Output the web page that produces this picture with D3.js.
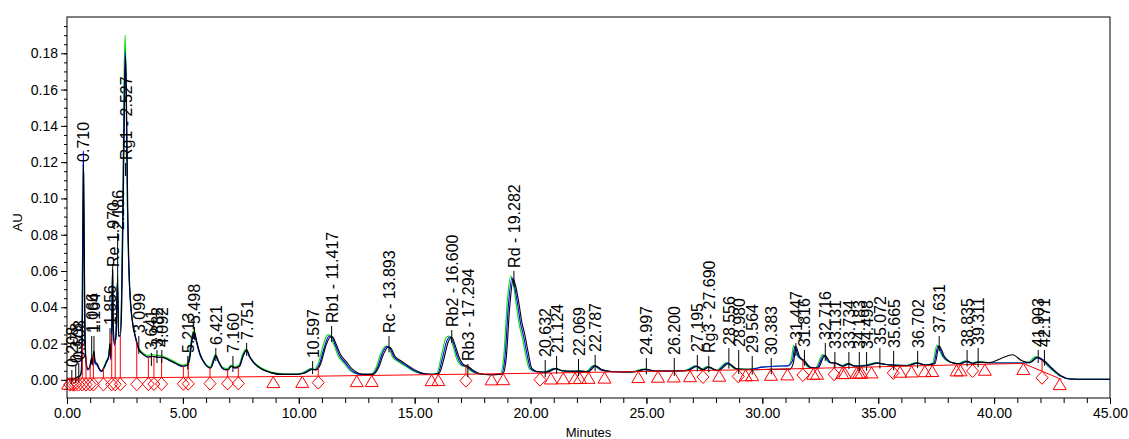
<!DOCTYPE html>
<html>
<head>
<meta charset="utf-8">
<script src="https://d3js.org/d3.v7.min.js"></script>
<style>
body, html {
    margin: 0;
    padding: 0;
    background: #fff;
    font-family: "Liberation Sans", Arial, sans-serif;
}
.axis text {
    font-size: 14px;
    font-family: "Liberation Sans", Arial, sans-serif;
    fill: #000;
}
.axis path { display: none; }
.axis line { stroke: #000; }
.trace {
    fill: none;
    stroke-width: 1.1;
}
.peak-label {
    font-size: 16px;
    fill: #000;
}
.marker {
    fill: none;
    stroke: #ff0000;
    stroke-width: 1;
}
</style>
</head>
<body>
<div id="chart"></div>
<script>

// traces: [minutes, AU]
var traceGreen = [[0,0.0003],[0.2,0.0004],[0.35,0.0009],[0.45,0.0016],[0.55,0.0022],[0.61,0.004],[0.65,0.03],[0.68,0.085],[0.705,0.119],[0.73,0.075],[0.77,0.025],[0.82,0.0095],[0.9,0.006],[0.98,0.007],[1.05,0.0115],[1.09,0.0085],[1.15,0.0155],[1.21,0.0095],[1.3,0.0085],[1.4,0.006],[1.5,0.005],[1.6,0.0075],[1.7,0.0105],[1.8,0.0135],[1.85,0.02],[1.89,0.012],[1.93,0.029],[1.96,0.061],[1.99,0.029],[2.05,0.02],[2.11,0.025],[2.175,0.055],[2.22,0.026],[2.29,0.026],[2.35,0.046],[2.41,0.1],[2.465,0.168],[2.51,0.19],[2.555,0.158],[2.6,0.1],[2.66,0.063],[2.73,0.044],[2.83,0.032],[2.93,0.025],[3.07,0.018],[3.27,0.015],[3.47,0.0135],[3.67,0.014],[3.87,0.0135],[4.07,0.0133],[4.37,0.0118],[4.67,0.0098],[4.97,0.0082],[5.17,0.0088],[5.27,0.0128],[5.37,0.023],[5.47,0.027],[5.57,0.022],[5.72,0.0148],[5.92,0.0098],[6.17,0.0072],[6.32,0.0118],[6.39,0.014],[6.52,0.0108],[6.72,0.0068],[6.92,0.0062],[7.07,0.0082],[7.22,0.0072],[7.42,0.0082],[7.57,0.0138],[7.72,0.017],[7.87,0.0132],[8.07,0.0097],[8.37,0.0067],[8.77,0.0045],[9.3,0.0034],[9.8,0.0032],[10.1,0.0036],[10.35,0.0052],[10.5,0.0062],[10.65,0.0057],[10.85,0.0095],[11.05,0.019],[11.25,0.0248],[11.35,0.0246],[11.5,0.0198],[11.7,0.0132],[11.95,0.0092],[12.2,0.0052],[12.5,0.0033],[12.85,0.003],[13.1,0.003],[13.35,0.0072],[13.55,0.015],[13.75,0.0187],[13.85,0.0183],[14.05,0.0125],[14.3,0.01],[14.6,0.0076],[14.9,0.0052],[15.2,0.0036],[15.65,0.003],[15.95,0.0035],[16.15,0.013],[16.35,0.0232],[16.48,0.0242],[16.65,0.0188],[16.8,0.012],[17.0,0.008],[17.2,0.0072],[17.4,0.0052],[17.7,0.0034],[18.25,0.0028],[18.7,0.0034],[18.85,0.014],[19.0,0.044],[19.15,0.0572],[19.25,0.053],[19.4,0.04],[19.52,0.03],[19.65,0.023],[19.8,0.013],[19.95,0.006],[20.25,0.0046],[20.6,0.0044],[21.0,0.0064],[21.3,0.0051],[21.7,0.0048],[22.0,0.0049],[22.4,0.0046],[22.7,0.0079],[23.0,0.0056],[23.5,0.0046],[24.3,0.0044],[24.9,0.0059],[25.3,0.0049],[26.1,0.005],[26.7,0.0053],[27.1,0.0078],[27.35,0.0057],[27.6,0.0073],[28.0,0.0052],[28.45,0.0094],[28.8,0.0062],[29.4,0.006],[30.0,0.007],[30.5,0.0075],[31.1,0.0078],[31.25,0.011],[31.35,0.019],[31.5,0.0135],[31.72,0.0108],[32.0,0.007],[32.3,0.0067],[32.6,0.014],[32.85,0.0098],[33.1,0.0094],[33.4,0.0078],[33.65,0.009],[33.9,0.0078],[34.4,0.008],[34.9,0.0094],[35.2,0.0087],[35.6,0.0082],[36.2,0.008],[36.6,0.0094],[37.0,0.0082],[37.35,0.0092],[37.53,0.0192],[37.75,0.0133],[38.1,0.0097],[38.45,0.009],[38.75,0.0104],[39.0,0.0092],[39.25,0.01],[39.7,0.0096],[40.3,0.0094],[41.0,0.0094],[41.45,0.0095],[41.8,0.0128],[42.07,0.0107],[42.4,0.0066],[42.8,0.0024],[43.2,0.0006],[44,0.0003],[45,0.0003]];

var traceBlue = [[0,0.0002],[0.2,0.0003],[0.35,0.0008],[0.45,0.0015],[0.55,0.002],[0.61,0.004],[0.65,0.03],[0.68,0.09],[0.705,0.126],[0.73,0.08],[0.77,0.025],[0.82,0.009],[0.9,0.0055],[0.98,0.0065],[1.05,0.011],[1.09,0.008],[1.15,0.015],[1.21,0.009],[1.3,0.008],[1.4,0.0055],[1.5,0.0045],[1.6,0.0065],[1.7,0.0095],[1.8,0.0125],[1.85,0.019],[1.89,0.011],[1.93,0.028],[1.96,0.06],[1.99,0.028],[2.05,0.019],[2.11,0.024],[2.175,0.054],[2.22,0.024],[2.29,0.024],[2.35,0.042],[2.41,0.095],[2.47,0.158],[2.515,0.181],[2.56,0.15],[2.61,0.095],[2.67,0.06],[2.74,0.042],[2.84,0.03],[2.94,0.024],[3.08,0.017],[3.28,0.014],[3.48,0.0125],[3.68,0.013],[3.88,0.0125],[4.08,0.0125],[4.38,0.011],[4.68,0.009],[4.98,0.0075],[5.18,0.008],[5.28,0.012],[5.38,0.022],[5.48,0.0262],[5.58,0.021],[5.73,0.014],[5.93,0.009],[6.18,0.0065],[6.33,0.011],[6.4,0.0132],[6.53,0.01],[6.73,0.006],[6.93,0.0055],[7.08,0.0075],[7.23,0.0065],[7.43,0.0075],[7.58,0.013],[7.73,0.0162],[7.88,0.0125],[8.08,0.009],[8.38,0.006],[8.78,0.004],[9.3,0.003],[9.8,0.003],[10.15,0.0035],[10.4,0.005],[10.54,0.006],[10.7,0.0055],[10.9,0.009],[11.1,0.018],[11.3,0.024],[11.4,0.0242],[11.55,0.02],[11.75,0.0135],[12.0,0.0095],[12.25,0.0055],[12.55,0.0033],[12.9,0.003],[13.15,0.003],[13.4,0.007],[13.6,0.0145],[13.8,0.0183],[13.9,0.018],[14.1,0.0128],[14.35,0.0102],[14.65,0.0078],[14.95,0.0053],[15.25,0.0037],[15.7,0.003],[16.0,0.0035],[16.2,0.012],[16.4,0.022],[16.54,0.0238],[16.7,0.019],[16.85,0.0125],[17.05,0.0082],[17.25,0.0073],[17.45,0.0053],[17.75,0.0034],[18.3,0.0028],[18.75,0.0033],[18.9,0.013],[19.05,0.042],[19.2,0.0562],[19.3,0.052],[19.45,0.041],[19.57,0.031],[19.7,0.024],[19.85,0.014],[20.0,0.0062],[20.25,0.0045],[20.65,0.0043],[21.05,0.0063],[21.35,0.005],[21.75,0.0047],[22.05,0.0048],[22.45,0.0045],[22.75,0.0078],[23.05,0.0055],[23.55,0.0045],[24.35,0.0043],[24.95,0.0058],[25.35,0.0048],[26.15,0.0049],[26.75,0.0052],[27.15,0.0076],[27.4,0.0056],[27.65,0.0071],[28.05,0.0051],[28.5,0.0092],[28.85,0.0061],[29.45,0.0058],[30.0,0.007],[30.5,0.0075],[31.1,0.0077],[31.3,0.0105],[31.4,0.0183],[31.55,0.013],[31.77,0.0106],[32.05,0.0069],[32.35,0.0066],[32.65,0.0136],[32.9,0.0096],[33.15,0.0093],[33.45,0.0076],[33.7,0.0089],[33.95,0.0076],[34.45,0.0079],[34.95,0.0093],[35.25,0.0086],[35.65,0.0081],[36.25,0.0079],[36.65,0.0093],[37.05,0.0081],[37.4,0.0091],[37.58,0.0186],[37.8,0.013],[38.15,0.0096],[38.5,0.0089],[38.8,0.0102],[39.05,0.0091],[39.3,0.0098],[39.75,0.0094],[40.3,0.0093],[41.0,0.0093],[41.5,0.0094],[41.85,0.0124],[42.12,0.0105],[42.45,0.0065],[42.85,0.0023],[43.25,0.0005],[44,0.0003],[45,0.0003]];

var traceBlack = [[0,0.0002],[0.2,0.0003],[0.35,0.0008],[0.45,0.0015],[0.55,0.002],[0.62,0.004],[0.66,0.02],[0.69,0.07],[0.72,0.114],[0.75,0.07],[0.78,0.025],[0.83,0.01],[0.9,0.006],[0.98,0.007],[1.06,0.012],[1.1,0.009],[1.16,0.016],[1.22,0.01],[1.3,0.009],[1.4,0.006],[1.5,0.005],[1.6,0.007],[1.7,0.01],[1.8,0.013],[1.86,0.02],[1.9,0.012],[1.94,0.03],[1.97,0.064],[2.0,0.03],[2.06,0.02],[2.12,0.025],[2.186,0.057],[2.23,0.025],[2.3,0.024],[2.36,0.04],[2.42,0.09],[2.48,0.15],[2.53,0.178],[2.57,0.15],[2.62,0.095],[2.68,0.06],[2.75,0.042],[2.85,0.03],[2.95,0.024],[3.1,0.017],[3.3,0.014],[3.5,0.0125],[3.7,0.013],[3.9,0.0125],[4.1,0.0125],[4.4,0.011],[4.7,0.009],[5.0,0.0075],[5.2,0.008],[5.3,0.012],[5.4,0.022],[5.5,0.0265],[5.6,0.021],[5.75,0.014],[5.95,0.009],[6.2,0.0065],[6.35,0.011],[6.42,0.0135],[6.55,0.01],[6.75,0.006],[6.95,0.0055],[7.1,0.0075],[7.25,0.0065],[7.45,0.0075],[7.6,0.013],[7.75,0.0165],[7.9,0.0125],[8.1,0.009],[8.4,0.006],[8.8,0.004],[9.3,0.003],[9.8,0.003],[10.2,0.0035],[10.45,0.005],[10.6,0.006],[10.75,0.0055],[10.95,0.009],[11.15,0.018],[11.35,0.0235],[11.45,0.0237],[11.6,0.02],[11.8,0.014],[12.05,0.01],[12.3,0.006],[12.6,0.0035],[12.9,0.003],[13.2,0.003],[13.45,0.007],[13.65,0.014],[13.85,0.018],[13.95,0.0178],[14.15,0.013],[14.4,0.0105],[14.7,0.008],[15.0,0.0055],[15.3,0.0038],[15.7,0.003],[16.05,0.0035],[16.25,0.011],[16.45,0.021],[16.6,0.0235],[16.75,0.019],[16.9,0.013],[17.1,0.0085],[17.3,0.0075],[17.5,0.0055],[17.8,0.0035],[18.3,0.0028],[18.8,0.0032],[18.95,0.012],[19.1,0.04],[19.25,0.0555],[19.35,0.052],[19.5,0.042],[19.62,0.032],[19.75,0.025],[19.9,0.015],[20.05,0.0065],[20.3,0.0045],[20.7,0.0042],[21.1,0.0062],[21.4,0.005],[21.8,0.0047],[22.1,0.0048],[22.5,0.0045],[22.8,0.0077],[23.1,0.0055],[23.6,0.0045],[24.4,0.0043],[25.0,0.0058],[25.4,0.0048],[26.2,0.0049],[26.8,0.0052],[27.2,0.0075],[27.45,0.0056],[27.7,0.007],[28.1,0.0051],[28.55,0.009],[28.9,0.006],[29.5,0.0056],[30.4,0.0058],[31.2,0.0059],[31.35,0.01],[31.45,0.0184],[31.6,0.013],[31.82,0.0105],[32.1,0.0068],[32.4,0.0065],[32.7,0.0135],[32.95,0.0095],[33.2,0.0092],[33.5,0.0075],[33.75,0.0088],[34.0,0.0075],[34.5,0.0078],[35.0,0.0092],[35.3,0.0085],[35.7,0.008],[36.3,0.0078],[36.7,0.0092],[37.1,0.008],[37.45,0.009],[37.63,0.0187],[37.85,0.013],[38.2,0.0095],[38.55,0.0088],[38.85,0.0102],[39.1,0.009],[39.35,0.0098],[39.8,0.0095],[40.3,0.0118],[40.8,0.0138],[41.2,0.0105],[41.55,0.0095],[41.9,0.0125],[42.17,0.0105],[42.5,0.0064],[42.9,0.0022],[43.3,0.0005],[44,0.0003],[45,0.0003]];

// integration baseline (red)
var baseline = [[0,0.0009],[10,0.0019],[20,0.0036],[30,0.0057],[41.25,0.0091],[42.9,0.0003]];

// peak start / end marks
var diamondTimes = [0.12,0.25,0.36,0.5,0.66,0.82,1.0,1.14,1.57,1.93,2.08,2.3,3.01,3.51,3.75,4.08,5.02,5.23,6.17,6.93,7.39,10.84,17.21,20.41,27.44,28.96,31.75,33.1,35.65,39.07,42.07];
var triangleTimes = [0.05,8.9,10.15,12.5,13.15,15.73,16.02,18.32,18.82,20.88,21.41,21.92,22.13,22.5,23.19,24.65,25.5,26.18,26.88,28.14,29.28,29.56,30.37,31.08,32.2,32.36,33.45,33.56,34.07,34.18,34.28,34.71,35.94,36.44,37.01,37.33,38.38,38.55,39.6,41.26,42.83];

// peak labels: retention time, text, AU level of label foot
var peakTimes = [0.208,0.378,0.508,0.710,1.066,1.164,1.856,1.970,2.186,2.527,3.099,3.641,3.882,4.092,5.213,5.498,6.421,7.160,7.751,10.597,11.417,13.893,16.600,17.294,19.282,20.632,21.124,22.069,22.787,24.997,26.200,27.195,27.690,28.556,28.980,29.564,30.383,31.447,31.816,32.716,33.131,33.734,34.183,34.498,35.072,35.665,36.702,37.631,38.835,39.311,41.903,42.171];
var peakNames = ["0.208","0.378","0.508","0.710","1.066","1.164","1.856","Re 1.970","2.186","Rg1 - 2.527","3.099","3.641","3.882","4.092","5.213","5.498","6.421","7.160","7.751","10.597","Rb1 - 11.417","Rc - 13.893","Rb2 - 16.600","Rb3 - 17.294","Rd - 19.282","20.632","21.124","22.069","22.787","24.997","26.200","27.195","Rg3 - 27.690","28.556","28.980","29.564","30.383","31.447","31.816","32.716","33.131","33.734","34.183","34.498","35.072","35.665","36.702","37.631","38.835","39.311","41.903","42.171"];
var labelLevels = [0.0071,0.0093,0.0109,0.1201,0.0258,0.0258,0.0302,0.0622,0.0826,0.1212,0.0258,0.0165,0.0181,0.0181,0.0148,0.0308,0.0192,0.0148,0.0220,0.0120,0.0313,0.0258,0.0291,0.0104,0.0617,0.0126,0.0148,0.0131,0.0154,0.0137,0.0137,0.0154,0.0148,0.0192,0.0181,0.0148,0.0137,0.0220,0.0181,0.0220,0.0170,0.0170,0.0170,0.0170,0.0192,0.0176,0.0176,0.0258,0.0181,0.0192,0.0181,0.0181];

var xTickValues = [0,5,10,15,20,25,30,35,40,45];
var yTickValues = [0,0.02,0.04,0.06,0.08,0.10,0.12,0.14,0.16,0.18];

var width = 1129,
    height = 439,
    plot = {left: 67, right: 1110, top: 17, bottom: 398};

var svg = d3.select('#chart').append('svg')
    .attr('width', width)
    .attr('height', height);

var x = d3.scaleLinear().domain([0, 45]).range([plot.left, plot.right]);
var y = d3.scaleLinear().domain([-0.01, 0.2]).range([plot.bottom, plot.top]);

// linear lookup along a trace
function valueAt(pts, t) {
  var i = d3.bisector(function(d) { return d[0]; }).left(pts, t);
  if (i <= 0) return pts[0][1];
  if (i >= pts.length) return pts[pts.length - 1][1];
  var a = pts[i - 1], b = pts[i];
  return a[1] + (b[1] - a[1]) * (t - a[0]) / (b[0] - a[0]);
}

// axes
svg.append('g').attr('class', 'axis')
  .attr('transform', 'translate(0,' + plot.bottom + ')')
  .call(d3.axisBottom(x).tickValues(d3.range(0, 46, 1)).tickFormat('').tickSize(5));
svg.append('g').attr('class', 'axis')
  .attr('transform', 'translate(0,' + plot.bottom + ')')
  .call(d3.axisBottom(x).tickValues(xTickValues).tickFormat(d3.format('.2f')).tickSize(6).tickPadding(4));

svg.append('g').attr('class', 'axis')
  .attr('transform', 'translate(' + plot.left + ',0)')
  .call(d3.axisLeft(y).tickValues(d3.range(-0.005, 0.2, 0.005)).tickFormat('').tickSize(3));
svg.append('g').attr('class', 'axis')
  .attr('transform', 'translate(' + plot.left + ',0)')
  .call(d3.axisLeft(y).tickValues(yTickValues).tickFormat(d3.format('.2f')).tickSize(6).tickPadding(3));

svg.append('text')
  .attr('transform', 'translate(22,' + ((plot.top + plot.bottom) / 2 + 15) + ') rotate(-90)')
  .attr('text-anchor', 'middle')
  .style('font-size', '13px')
  .text('AU');

svg.append('text')
  .attr('x', (plot.left + plot.right) / 2)
  .attr('y', 437)
  .attr('text-anchor', 'middle')
  .style('font-size', '13px')
  .text('Minutes');

// traces
var line = d3.line()
  .x(function(d) { return x(d[0]); })
  .y(function(d) { return y(d[1]); })
  .curve(d3.curveMonotoneX);

var series = [
  {data: traceGreen, color: '#00e000'},
  {data: traceBlue, color: '#0000ff'},
  {data: traceBlack, color: '#000000'}
];
svg.append('g').selectAll('path')
  .data(series).enter().append('path')
  .attr('class', 'trace')
  .attr('stroke', function(d) { return d.color; })
  .attr('d', function(d) { return line(d.data); });

// baseline
svg.append('path')
  .datum(baseline)
  .attr('fill', 'none')
  .attr('stroke', '#ff0000')
  .attr('stroke-width', 1)
  .attr('d', d3.line().x(function(d) { return x(d[0]); }).y(function(d) { return y(d[1]); }));

// drop lines at the valley marks
svg.append('g').selectAll('line')
  .data(diamondTimes).enter().append('line')
  .attr('x1', function(d) { return x(d); })
  .attr('x2', function(d) { return x(d); })
  .attr('y1', function(d) { return y(valueAt(baseline, d)); })
  .attr('y2', function(d) { return y(valueAt(traceBlack, d)); })
  .attr('stroke', '#ff0000')
  .attr('stroke-width', 1);

// markers hang from the baseline
svg.append('g').selectAll('path')
  .data(diamondTimes).enter().append('path')
  .attr('class', 'marker')
  .attr('d', function(d) {
    var cx = x(d), top = y(valueAt(baseline, d));
    return 'M' + cx + ',' + top + 'L' + (cx + 6) + ',' + (top + 6.5) +
           'L' + cx + ',' + (top + 13) + 'L' + (cx - 6) + ',' + (top + 6.5) + 'Z';
  });
svg.append('g').selectAll('path')
  .data(triangleTimes).enter().append('path')
  .attr('class', 'marker')
  .attr('d', function(d) {
    var cx = x(d), top = y(valueAt(baseline, d));
    return 'M' + cx + ',' + top + 'L' + (cx + 6.5) + ',' + (top + 11) +
           'L' + (cx - 6.5) + ',' + (top + 11) + 'Z';
  });

// peak labels
var peaks = peakTimes.map(function(t, i) {
  return {t: t, name: peakNames[i], level: labelLevels[i]};
});

var pg = svg.append('g').selectAll('g')
  .data(peaks).enter().append('g');

pg.append('line')
  .attr('x1', function(d) { return x(d.t); })
  .attr('x2', function(d) { return x(d.t); })
  .attr('y1', function(d) { return y(d.level) + 3; })
  .attr('y2', function(d) {
    return Math.max(y(valueAt(traceBlack, d.t)) + 5, y(d.level) + 16);
  })
  .attr('stroke', '#000')
  .attr('stroke-width', 1);

pg.append('text')
  .attr('class', 'peak-label')
  .attr('transform', function(d) {
    return 'translate(' + (x(d.t) + 6) + ',' + y(d.level) + ') rotate(-90)';
  })
  .text(function(d) { return d.name; });

// frame
svg.append('rect')
  .attr('x', plot.left)
  .attr('y', plot.top)
  .attr('width', plot.right - plot.left)
  .attr('height', plot.bottom - plot.top)
  .attr('fill', 'none')
  .attr('stroke', '#000')
  .attr('stroke-width', 1);

</script>
</body>
</html>
